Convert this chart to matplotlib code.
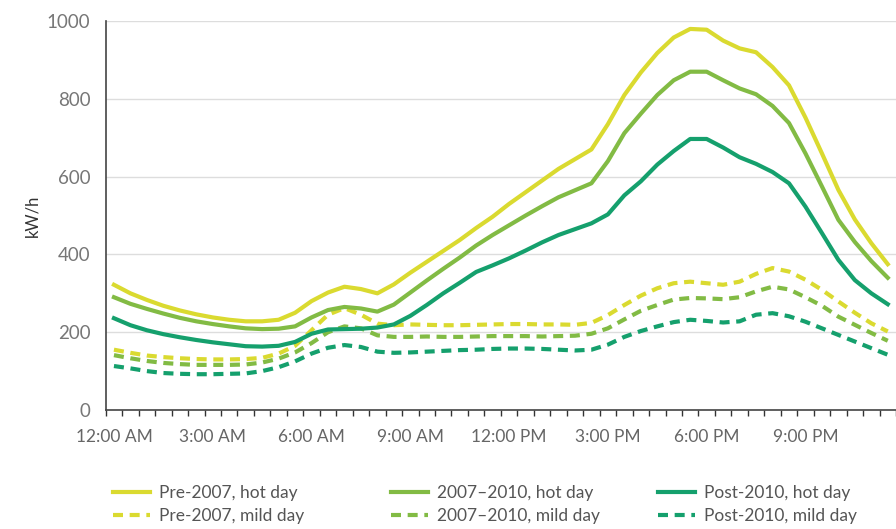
import matplotlib
matplotlib.use('Agg')
import matplotlib.pyplot as plt
import numpy as np

plt.rcParams['font.family'] = ['Lato', 'DejaVu Sans']

# half-hourly load profiles, kW/h (12:00 AM .. 11:30 PM)
hours = ['12:00 AM', '3:00 AM', '6:00 AM', '9:00 AM', '12:00 PM', '3:00 PM', '6:00 PM', '9:00 PM']

pre2007_hot = [322, 300, 283, 268, 256, 246, 238, 232, 228, 228, 232, 250,
               280, 302, 317, 311, 300, 323, 353, 381, 409, 437, 468, 497,
               530, 560, 590, 620, 645, 670, 735, 810, 868, 918, 958, 980,
               978, 950, 930, 920, 882, 835, 752, 660, 566, 490, 429, 375]
mid_hot = [290, 273, 260, 248, 237, 228, 221, 215, 210, 208, 209, 215,
           238, 257, 265, 261, 253, 271, 302, 333, 363, 392, 423, 450,
           475, 500, 524, 547, 565, 583, 640, 712, 762, 810, 848, 870,
           870, 848, 827, 812, 782, 738, 660, 575, 489, 432, 383, 340]
post2010_hot = [236, 218, 205, 195, 187, 180, 174, 169, 164, 163, 165, 175,
                196, 207, 208, 209, 212, 220, 242, 270, 300, 327, 355, 372,
                390, 410, 431, 450, 465, 480, 503, 552, 588, 631, 666, 697,
                697, 675, 650, 633, 612, 583, 523, 455, 386, 334, 300, 272]
pre2007_mild = [155, 147, 140, 136, 133, 131, 130, 130, 131, 134, 145, 165,
                205, 245, 262, 245, 222, 218, 220, 219, 218, 218, 219, 220,
                221, 221, 220, 220, 219, 224, 244, 270, 294, 313, 326, 330,
                326, 322, 330, 350, 365, 356, 335, 309, 279, 250, 223, 202]
mid_mild = [141, 133, 126, 121, 118, 116, 116, 116, 117, 122, 132, 148,
            172, 200, 215, 210, 192, 188, 188, 189, 188, 188, 189, 190,
            190, 190, 189, 190, 191, 196, 210, 233, 255, 270, 284, 288,
            287, 285, 290, 305, 317, 310, 290, 268, 240, 219, 198, 178]
post2010_mild = [113, 107, 100, 95, 93, 92, 92, 93, 94, 100, 110, 125,
                 145, 160, 167, 162, 150, 147, 148, 150, 152, 154, 155, 157,
                 158, 158, 157, 155, 153, 155, 168, 188, 203, 215, 226, 232,
                 229, 225, 228, 245, 249, 241, 227, 210, 193, 176, 159, 142]

c_pre = '#dada30'
c_mid = '#82bb44'
c_post = '#15a06d'
txt = '#555555'

x = np.arange(len(pre2007_hot))

fig = plt.figure(figsize=(8.96, 5.29), dpi=100)
ax = fig.add_axes([0.118, 0.225, 0.882, 0.735])

lw = 3.0
dash = (2.4, 1.6)
l1, = ax.plot(x, pre2007_hot, color=c_pre, lw=lw, solid_joinstyle='round', label='Pre-2007, hot day')
l2, = ax.plot(x, pre2007_mild, color=c_pre, lw=lw, dashes=dash, label='Pre-2007, mild day')
l3, = ax.plot(x, mid_hot, color=c_mid, lw=lw, solid_joinstyle='round', label='2007\u20132010, hot day')
l4, = ax.plot(x, mid_mild, color=c_mid, lw=lw, dashes=dash, label='2007\u20132010, mild day')
l5, = ax.plot(x, post2010_hot, color=c_post, lw=lw, solid_joinstyle='round', label='Post-2010, hot day')
l6, = ax.plot(x, post2010_mild, color=c_post, lw=lw, dashes=dash, label='Post-2010, mild day')

ax.set_xlim(-0.5, len(x) - 0.5)
ax.set_ylim(0, 1000)
ax.set_yticks([0, 200, 400, 600, 800, 1000])
ax.set_xticks(np.arange(0, len(x), 6))
ax.set_xticklabels(hours)
ax.set_xticks(np.arange(-0.5, len(x), 1), minor=True)
ax.tick_params(axis='x', which='major', length=0, pad=14, labelsize=12.5, colors='#666666')
ax.tick_params(axis='x', which='minor', length=4, width=1, color='#333333', direction='out')
ax.tick_params(axis='y', length=0, pad=11, labelsize=13.5, colors='#777777')
ax.set_ylabel('kW/h', fontsize=12, color='#333333', labelpad=5)

ax.yaxis.grid(True, color='#dddddd', lw=1)
ax.set_axisbelow(True)
for s in ['top', 'right']:
    ax.spines[s].set_visible(False)
for s in ['left', 'bottom']:
    ax.spines[s].set_color('#444444')
    ax.spines[s].set_linewidth(1.2)

# three legend columns, placed like the reference
cols = [([l1, l2], 0.109), ([l3, l4], 0.419), ([l5, l6], 0.717)]
for hs, xa in cols:
    leg = fig.legend(handles=hs, loc='upper left', bbox_to_anchor=(xa, 0.112),
                     frameon=False, fontsize=12.5, handlelength=2.1,
                     labelspacing=0.4, handletextpad=0.55)
    for t in leg.get_texts():
        t.set_color(txt)

fig.savefig('out.png', dpi=100)
